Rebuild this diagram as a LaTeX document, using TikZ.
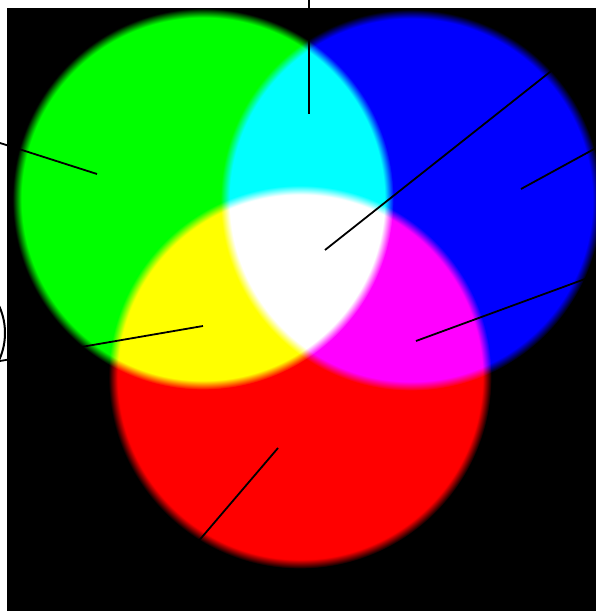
\documentclass[tikz,border=0pt]{standalone}
\usepackage{tikz}
\pgfdeclareradialshading{ballG}{\pgfpoint{0bp}{0bp}}{color(0bp)=(green); color(23.8bp)=(green); color(25bp)=(black); color(50bp)=(black)}
\pgfdeclareradialshading{ballB}{\pgfpoint{0bp}{0bp}}{color(0bp)=(blue); color(23.8bp)=(blue); color(25bp)=(black); color(50bp)=(black)}
\pgfdeclareradialshading{ballR}{\pgfpoint{0bp}{0bp}}{color(0bp)=(red); color(23.8bp)=(red); color(25bp)=(black); color(50bp)=(black)}
\begin{document}
\begin{tikzpicture}[x=1pt,y=1pt,
  leader/.style={line width=1.8pt, draw=black},
  callout/.style={line width=2pt, draw=black}]
\useasboundingbox (0,0) rectangle (596,611);
\fill[black] (7,0) rectangle (596,603);
% circle centres
\coordinate (gc) at (203,412);
\coordinate (bc) at (411,411);
\coordinate (rc) at (300,234);
\begin{scope}
  \clip (7,0) rectangle (596,603);
  \begin{scope}[blend group=screen]
    \shade[shading=ballG] (gc) circle (190.6);
    \shade[shading=ballB] (bc) circle (190.6);
    \shade[shading=ballR] (rc) circle (191.6);
  \end{scope}
\end{scope}
% leader line ends
\coordinate (gIn) at (97,437);   \coordinate (gOut) at (0,468);
\coordinate (cIn) at (309,497);  \coordinate (cOut) at (309,611);
\coordinate (wIn) at (325,361);  \coordinate (wOut) at (555,543);
\coordinate (bIn) at (521,422);  \coordinate (bOut) at (596,463);
\coordinate (mIn) at (416,270);  \coordinate (mOut) at (596,336);
\coordinate (yIn) at (203,285);  \coordinate (yOut) at (0,250);
\coordinate (rIn) at (278,163);  \coordinate (rOut) at (185,54);
\draw[leader] (gIn) -- (gOut);
\draw[leader] (cIn) -- (cOut);
\draw[leader] (wIn) -- (wOut);
\draw[leader] (bIn) -- (bOut);
\draw[leader] (mIn) -- (mOut);
\draw[leader] (yIn) -- (yOut);
\draw[leader] (rIn) -- (rOut);
% cut-off callout at the left edge
\coordinate (yCall) at (-60,278);
\draw[callout] (yCall) circle (65);
\end{tikzpicture}
\end{document}
